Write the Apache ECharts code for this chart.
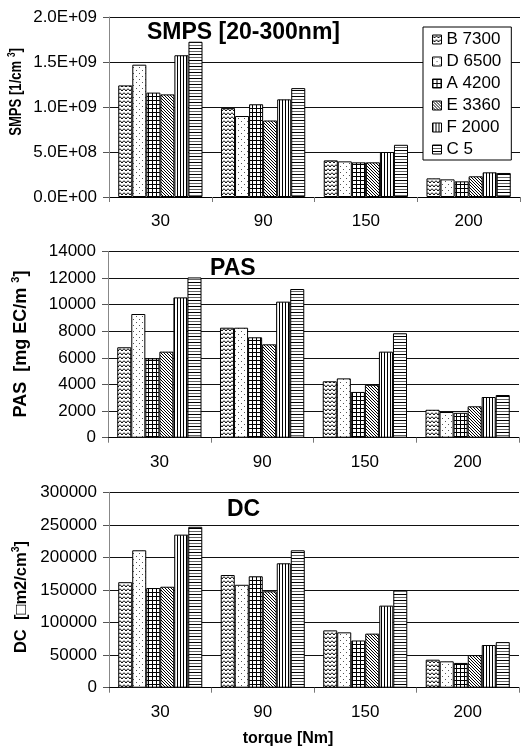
<!DOCTYPE html>
<html>
<head>
<meta charset="utf-8">
<script src="https://cdn.jsdelivr.net/npm/echarts@6/dist/echarts.min.js"></script>
<style>
html,body{margin:0;padding:0;background:#fff;}
#chart{width:523px;height:747px;}
</style>
</head>
<body>
<div id="chart"></div>
<script>
// ---------- data ----------
const categories = ['30', '90', '150', '200'];
const seriesNames = ['B 7300', 'D 6500', 'A 4200', 'E 3360', 'F 2000', 'C 5'];

// values per series (order of seriesNames), per torque category
const smpsValues = [
  [1.24e9, 0.99e9, 0.407e9, 0.207e9],
  [1.47e9, 0.90e9, 0.396e9, 0.196e9],
  [1.16e9, 1.03e9, 0.385e9, 0.174e9],
  [1.14e9, 0.85e9, 0.385e9, 0.230e9],
  [1.575e9, 1.085e9, 0.500e9, 0.274e9],
  [1.725e9, 1.21e9, 0.580e9, 0.267e9]
];
const pasValues = [
  [6800, 8270, 4240, 2100],
  [9300, 8270, 4460, 1930],
  [5970, 7550, 3440, 1870],
  [6470, 7020, 3980, 2360],
  [10550, 10230, 6470, 3060],
  [12050, 11180, 7850, 3210]
];
const dcValues = [
  [162000, 173000, 88000, 43000],
  [211000, 158000, 85000, 40500],
  [153000, 171000, 72500, 38000],
  [155000, 148000, 83000, 50000],
  [235000, 191000, 126000, 65500],
  [247000, 211000, 150000, 70000]
];

const smpsTicks = [0, 5e8, 1e9, 1.5e9, 2e9];
const pasTicks = [0, 2000, 4000, 6000, 8000, 10000, 12000, 14000];
const dcTicks = [0, 50000, 100000, 150000, 200000, 250000, 300000];

const panelTitles = ['SMPS [20-300nm]', 'PAS', 'DC'];
const yAxisTitles = [
  '{b|SMPS [1/cm }{s|3}{b|]}',
  '{b|PAS  [mg EC/m }{s|3}{b|]}',
  '{b|DC  [\u25A1m2/cm}{s|3}{b|]}'
];
const xAxisTitle = 'torque [Nm]';

// ---------- patterns ----------
function makePattern(w, h, draw) {
  const c = document.createElement('canvas');
  c.width = w; c.height = h;
  const g = c.getContext('2d');
  g.fillStyle = '#fff';
  g.fillRect(0, 0, w, h);
  draw(g);
  return { image: c, repeat: 'repeat' };
}
const patterns = [
  // B zigzag
  makePattern(4, 4, g => {
    g.strokeStyle = '#000'; g.lineWidth = 1;
    g.beginPath(); g.moveTo(0, 0.5); g.lineTo(2, 3); g.lineTo(4, 0.5); g.stroke();
  }),
  // D sparse dots
  makePattern(6, 6, g => {
    g.fillStyle = '#555';
    g.fillRect(1, 1, 1, 1); g.fillRect(4, 4, 1, 1);
  }),
  // A grid
  makePattern(4, 4, g => {
    g.fillStyle = '#000';
    g.fillRect(0, 0, 1, 4); g.fillRect(0, 0, 4, 1);
  }),
  // E diagonal "\"
  makePattern(3, 3, g => {
    g.fillStyle = '#000';
    g.fillRect(0, 0, 1, 1); g.fillRect(1, 1, 1, 1); g.fillRect(2, 2, 1, 1);
  }),
  // F vertical lines
  makePattern(3, 1, g => {
    g.fillStyle = '#000';
    g.fillRect(0, 0, 1, 1);
  }),
  // C horizontal lines
  makePattern(1, 6, g => {
    g.fillStyle = '#000'; g.fillRect(0, 0, 1, 1);
    g.fillStyle = '#666'; g.fillRect(0, 3, 1, 1);
  })
];

// ---------- layout ----------
const FONT = '"Liberation Sans", Arial, sans-serif';
const grids = [
  { left: 109, top: 17, width: 411, height: 180 },
  { left: 108, top: 251.5, width: 411, height: 186.2 },
  { left: 109, top: 492.3, width: 410, height: 195.4 }
];

function expFmt(v) {
  let s = Number(v).toExponential(1).toUpperCase();
  return s.replace(/E([+-])(\d+)$/, (m, sg, d) => 'E' + sg + (d.length < 2 ? '0' + d : d));
}

const tickSets = [smpsTicks, pasTicks, dcTicks];
const valueSets = [smpsValues, pasValues, dcValues];

const xAxes = [], yAxes = [], series = [];
for (let p = 0; p < 3; p++) {
  const ticks = tickSets[p];
  xAxes.push({
    gridIndex: p, type: 'category', data: categories,
    axisLine: { show: true, lineStyle: { color: '#000', width: 1 } },
    axisTick: { show: true, length: 5, lineStyle: { color: '#777' } },
    axisLabel: { fontSize: 17, color: '#000', margin: 16, fontFamily: FONT },
    splitLine: { show: false }
  });
  yAxes.push({
    gridIndex: p, type: 'value',
    min: ticks[0], max: ticks[ticks.length - 1], interval: ticks[1] - ticks[0],
    axisLine: { show: true, lineStyle: { color: '#888', width: 1 } },
    axisTick: { show: true, length: 6, lineStyle: { color: '#555' } },
    axisLabel: {
      fontSize: 17, color: '#000', margin: 12, fontFamily: FONT,
      formatter: p === 0 ? expFmt : (v => String(v))
    },
    splitLine: { show: true, lineStyle: { color: '#111', width: 1 } }
  });
  for (let i = 0; i < seriesNames.length; i++) {
    series.push({
      type: 'bar', name: seriesNames[i], xAxisIndex: p, yAxisIndex: p,
      data: valueSets[p][i],
      barGap: '0%', barCategoryGap: '18%',
      itemStyle: { color: patterns[i], borderColor: '#000', borderWidth: 1 },
      emphasis: { disabled: true },
      silent: true
    });
  }
}

const titlePos = [[147, 33], [210, 269], [227, 510]];
const graphics = panelTitles.map((t, i) => ({
  type: 'text', x: titlePos[i][0], y: titlePos[i][1], silent: true,
  style: {
    text: t, fill: '#000', font: 'bold 23px ' + FONT,
    fontSize: 23, fontWeight: 'bold', fontFamily: FONT,
    align: 'left', verticalAlign: 'middle', textAlign: 'left', textVerticalAlign: 'middle'
  }
}));
graphics.push({
  type: 'text', x: 288, y: 739, silent: true,
  style: {
    text: xAxisTitle, fill: '#000', font: 'bold 16px ' + FONT,
    fontSize: 16, fontWeight: 'bold', fontFamily: FONT,
    align: 'center', verticalAlign: 'middle', textAlign: 'center', textVerticalAlign: 'middle'
  }
});
// rotated y-axis titles
const yTitlePos = [[17, 92], [21, 344], [21, 597]];
const yTitleSizes = [16, 18, 17];
const yTitleStretch = [0.82, 1, 0.97];
yAxisTitles.forEach((t, i) => {
  const ns = yTitleSizes[i];
  graphics.push({
    type: 'text', x: yTitlePos[i][0], y: yTitlePos[i][1], rotation: Math.PI / 2,
    scaleX: yTitleStretch[i], scaleY: 1, silent: true,
    style: {
      text: t, fill: '#000',
      align: 'center', verticalAlign: 'middle', textAlign: 'center', textVerticalAlign: 'middle',
      rich: {
        b: { fontSize: ns, fontWeight: 'bold', fontFamily: FONT, fill: '#000', lineHeight: ns + 4 },
        s: { fontSize: Math.round(ns * 0.62), fontWeight: 'bold', fontFamily: FONT, fill: '#000', verticalAlign: 'top', lineHeight: ns + 4 }
      }
    }
  });
});

const chart = echarts.init(document.getElementById('chart'), null, { renderer: 'canvas' });
chart.setOption({
  animation: false,
  backgroundColor: '#fff',
  textStyle: { fontFamily: FONT },
  grid: grids,
  xAxis: xAxes,
  yAxis: yAxes,
  legend: {
    data: seriesNames,
    orient: 'vertical',
    left: 423, top: 27,
    backgroundColor: '#fff', borderColor: '#000', borderWidth: 1, borderRadius: 0,
    padding: [4, 10, 2, 9],
    icon: 'rect', itemWidth: 9, itemHeight: 9, itemGap: 5,
    textStyle: { fontSize: 17, color: '#000', lineHeight: 17, fontFamily: FONT },
    itemStyle: { borderColor: '#000', borderWidth: 1 },
    selectedMode: false
  },
  graphic: graphics,
  series: series
});
</script>
</body>
</html>
